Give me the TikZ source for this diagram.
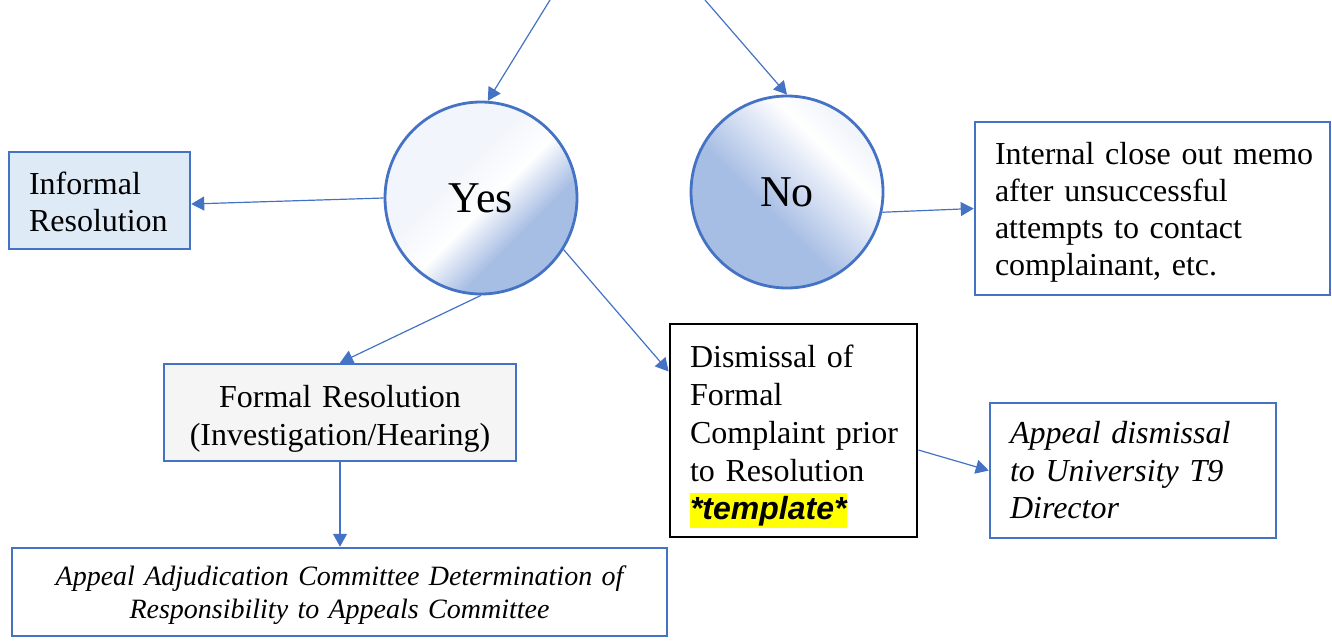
\documentclass[tikz,border=0pt]{standalone}
\usepackage{fontspec}
\setmainfont{Liberation Serif}
\newfontfamily\arialfont{Liberation Sans}
\usetikzlibrary{arrows.meta,calc}
\definecolor{bord}{HTML}{4472C4}
\definecolor{cpale}{HTML}{F2F5FB}
\definecolor{cblue}{HTML}{A6BDE4}
\definecolor{infofill}{HTML}{DEEBF7}
\definecolor{formfill}{HTML}{F5F5F5}
\definecolor{hlyellow}{HTML}{FFFF00}
\newcommand\topstrut[1]{\rule{0pt}{#1}}
\pgfdeclarehorizontalshading{yesshade}{100bp}{color(0bp)=(cpale); color(41bp)=(cpale); color(52bp)=(white); color(64bp)=(cblue); color(100bp)=(cblue)}
\pgfdeclarehorizontalshading{noshade}{100bp}{color(0bp)=(cpale); color(27bp)=(cpale); color(35bp)=(white); color(57bp)=(cblue); color(100bp)=(cblue)}
\tikzset{
  conn/.style={draw=bord, line width=1.2pt, -{Triangle[length=13pt,width=14pt]}},
  bluebox/.style={draw=bord, line width=2.5pt, inner ysep=0pt, inner xsep=20pt, font=\fontsize{32}{37}\selectfont, align=left},
  decision/.style={circle, draw=bord, line width=2.8pt, minimum size=192pt, inner sep=0pt, font=\fontsize{44}{50}\selectfont}
}
\begin{document}
\begin{tikzpicture}[x=1pt,y=-1pt]
\useasboundingbox (0,0) rectangle (1332,642);
% decisions
\node[decision, shading=yesshade, shading angle=-45] (yes) at (481,198) {Yes};
\node[decision, shading=noshade, shading angle=225] (no) at (787,192) {No};
% boxes
\node[bluebox, fill=infofill, text width=141pt, minimum height=97pt] (inf) at (99.5,200.5) {\topstrut{26pt}\mbox{Informal}\\\mbox{Resolution}};
\node[bluebox, text width=315pt, minimum height=173pt] (int) at (1152.5,208.5) {\topstrut{30pt}\mbox{Internal close out memo}\\\mbox{after unsuccessful}\\\mbox{attempts to contact}\\\mbox{complainant, etc.}};
\node[bluebox, fill=formfill, align=center, text width=312pt, minimum height=97pt, font=\fontsize{32}{38}\selectfont] (form) at (340,412.5) {\topstrut{35pt}\mbox{Formal Resolution}\\\mbox{(Investigation/Hearing)}};
\node[bluebox, align=center, text width=615pt, minimum height=88pt, font=\fontsize{28}{33}\selectfont\itshape] (adj) at (339.5,592) {\topstrut{27pt}\mbox{Appeal Adjudication Committee Determination of}\\\mbox{Responsibility to Appeals Committee}};
\node[bluebox, draw=black, line width=2.8pt, text width=207pt, minimum height=213pt, font=\fontsize{32}{38}\selectfont] (dis) at (793.5,430.5) {\topstrut{34pt}\mbox{Dismissal of}\\\mbox{Formal}\\\mbox{Complaint prior}\\\mbox{to Resolution}\\{\setlength\fboxsep{0pt}\colorbox{hlyellow}{\rule[-8pt]{0pt}{35pt}\arialfont\bfseries\itshape *template*}}};
\node[bluebox, text width=246pt, minimum height=135pt, font=\fontsize{32}{37.5}\selectfont\itshape] (app) at (1133,470.5) {\mbox{Appeal dismissal}\\\mbox{to University T9}\\\mbox{Director}};
% free ends
\coordinate (tl) at (550,0);
\coordinate (tr) at (705,0);
% connectors
\draw[conn] (tl) -- (yes.86);
\draw[conn] (tr) -- (no.north);
\draw[conn] (yes.west) -- ([yshift=-3.5pt]inf.east);
\draw[conn] (no.-12) -- (int.west);
\draw[conn] (yes.south) -- (form.north);
\draw[conn] (yes.-32) -- ([yshift=59pt]dis.west);
\draw[conn] (form.south) -- (form.south |- adj.north);
\draw[conn] ([yshift=-19.5pt]dis.east) -- (app.west);
\end{tikzpicture}
\end{document}
